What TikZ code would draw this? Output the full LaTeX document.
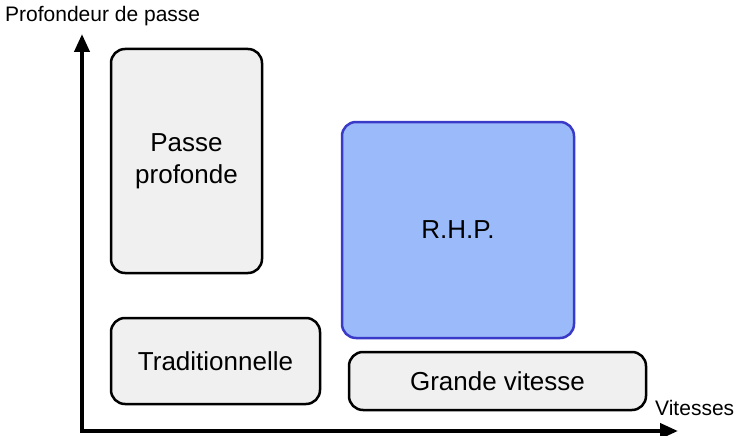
\documentclass[tikz,border=0pt]{standalone}
\usepackage{fontspec}
\setmainfont{Liberation Sans}
\usetikzlibrary{arrows.meta}
\definecolor{boxgray}{RGB}{240,240,240}
\definecolor{rhpfill}{RGB}{155,186,250}
\definecolor{rhpdraw}{RGB}{58,58,200}
\begin{document}
\begin{tikzpicture}[x=1pt,y=-1pt,
  zone/.style={draw=black, line width=2.5pt, fill=boxgray, rounded corners=14pt, inner sep=0pt, align=center, font=\fontsize{26}{32}\selectfont},
  rhp/.style={zone, draw=rhpdraw, fill=rhpfill},
  axis/.style={line width=4pt, -{Triangle[length=18pt,width=15pt]}},
  axlabel/.style={font=\fontsize{21}{25}\selectfont, inner sep=0pt}]
\useasboundingbox (0,0) rectangle (734,436);
\node[zone, minimum width=151pt, minimum height=224pt] (pp) at (186.5,161) {Passe\\profonde};
\node[zone, minimum width=209pt, minimum height=86pt] (tr) at (215.5,361) {Traditionnelle};
\node[rhp, minimum width=232pt, minimum height=216pt] (rhp) at (458,230) {R.H.P.};
\node[zone, minimum width=297pt, minimum height=58pt] (gv) at (497.5,381) {Grande vitesse};
\coordinate (o) at (82,431);
\coordinate (ytip) at (82,34);
\coordinate (xtip) at (678,431);
\draw[axis] (o) -- (ytip);
\draw[axis] ([xshift=-2pt]o) -- (xtip);
\node[axlabel, anchor=west] (yl) at (5,16) {Profondeur de passe};
\node[axlabel, anchor=west] (xl) at (655,408) {Vitesses};
\end{tikzpicture}
\end{document}
